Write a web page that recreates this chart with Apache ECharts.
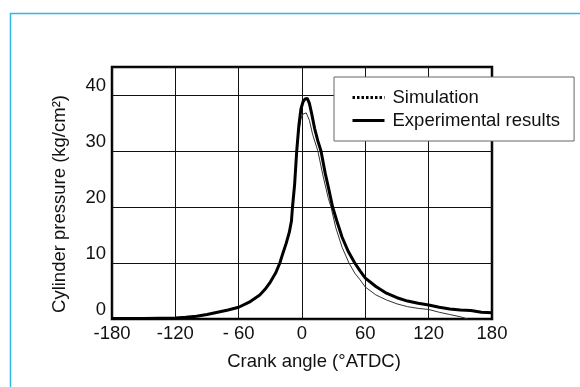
<!DOCTYPE html>
<html>
<head>
<meta charset="utf-8">
<script src="https://cdn.jsdelivr.net/npm/echarts@6/dist/echarts.min.js"></script>
<style>
  html, body { margin: 0; padding: 0; background: #fff; }
  #main { width: 580px; height: 387px; }
</style>
</head>
<body>
<div id="main"></div>
<script>
// crank angle (deg ATDC) / cylinder pressure (kg/cm2)
var angleExp = [-180, -150, -120, -110, -100, -90, -80, -70, -60, -50, -40, -35, -30, -25, -21, -18, -15, -12, -10, -9, -7, -5, -3, -1, 1, 3, 5, 7, 9, 12, 15, 18, 22, 25, 29, 33, 38, 44, 50, 55, 60, 70, 80, 90, 100, 110, 120, 130, 140, 150, 160, 170, 180];
var pressureExp = [0.1, 0.1, 0.2, 0.3, 0.5, 0.8, 1.2, 1.6, 2.1, 3.0, 4.3, 5.3, 6.6, 8.2, 10, 11.8, 13.5, 15.5, 17.5, 20, 24, 30, 34.5, 37.5, 38.8, 39.3, 39.4, 38.5, 36.8, 34, 31.8, 30, 26, 23.5, 20, 17.5, 14.6, 12, 10, 8.6, 7.3, 5.8, 4.6, 3.8, 3.2, 2.8, 2.5, 2.1, 1.8, 1.6, 1.5, 1.2, 1.1];

var angleSim = [-110, -100, -90, -80, -70, -60, -50, -40, -35, -30, -25, -21, -18, -15, -12, -10, -9, -7, -5, -3, -1, 1, 4, 7, 10, 15, 20, 25, 27.5, 32, 38, 44.5, 50, 55, 60, 70, 80, 90, 100, 110, 120, 130, 140, 150, 157];
var pressureSim = [0.3, 0.5, 0.8, 1.2, 1.6, 2.1, 3.0, 4.3, 5.3, 6.6, 8.2, 10, 11.8, 13.5, 15.5, 17.5, 20, 24, 29.5, 33.5, 35.8, 36.6, 36.8, 35.5, 33, 30, 25.5, 21.5, 20, 16.3, 12.8, 10, 8.2, 7, 5.7, 4.3, 3.4, 2.7, 2.2, 1.9, 1.7, 1.2, 0.8, 0.4, 0];

var xTickLabels = {'-180': '-180', '-120': '-120', '-60': '- 60', '0': '0', '60': '60', '120': '120', '180': '180'};

function pairs(xs, ys) {
  var out = [];
  for (var i = 0; i < xs.length; i++) out.push([xs[i], ys[i]]);
  return out;
}

var chart = echarts.init(document.getElementById('main'), null, { renderer: 'canvas' });
var fontFam = 'Liberation Sans, Arial, sans-serif';
var fs = 18.5;

var option = {
  animation: false,
  backgroundColor: '#fff',
  graphic: [{
    // light blue frame round the figure
    type: 'rect',
    left: 8, top: 11,
    shape: { x: 0, y: 0, width: 620, height: 420 },
    style: { fill: 'none', stroke: '#33b5e5', lineWidth: 1.5 },
    z: -1
  }],
  grid: {
    left: 112, right: 88, top: 67, bottom: 68,
    show: true, borderColor: '#000', borderWidth: 2.5
  },
  legend: {
    orient: 'vertical',
    left: 334, top: 77,
    padding: [11, 14, 11, 17],
    itemWidth: 32, itemHeight: 14, itemGap: 4,
    borderColor: '#666', borderWidth: 1,
    backgroundColor: '#fff',
    textStyle: { fontFamily: fontFam, fontSize: fs, lineHeight: 18, color: '#111', padding: [0, 0, 0, 3] },
    data: [
      { name: 'Simulation', itemStyle: { opacity: 0 }, lineStyle: { type: [2.5, 2], width: 3, color: '#000' } },
      { name: 'Experimental results', itemStyle: { opacity: 0 }, lineStyle: { width: 3, color: '#000' } }
    ],
    z: 10
  },
  xAxis: {
    type: 'value', min: -180, max: 180, interval: 60,
    name: 'Crank angle (°ATDC)', nameLocation: 'middle', nameGap: 33,
    nameTextStyle: { fontFamily: fontFam, fontSize: fs, color: '#111', padding: [0, 0, 0, 24] },
    axisLine: { show: false }, axisTick: { show: false },
    axisLabel: {
      fontFamily: fontFam, fontSize: fs, color: '#111', margin: 5,
      formatter: function (v) { return xTickLabels[String(v)] || ''; }
    },
    splitLine: { show: true, lineStyle: { color: '#111', width: 1 } }
  },
  yAxis: {
    type: 'value', min: 0, max: 45, interval: 10,
    name: 'Cylinder pressure (kg/cm²)', nameLocation: 'middle', nameGap: 43, nameRotate: 90,
    nameTextStyle: { fontFamily: fontFam, fontSize: fs, color: '#111', padding: [0, 22, 0, 0] },
    axisLine: { show: false }, axisTick: { show: false },
    axisLabel: {
      fontFamily: fontFam, fontSize: fs, color: '#111', margin: 6, verticalAlign: 'bottom',
      formatter: function (v) { return v % 10 === 0 ? String(v) : ''; }
    },
    splitLine: { show: true, lineStyle: { color: '#111', width: 1 } }
  },
  series: [
    {
      name: 'Simulation', type: 'line', showSymbol: false, symbol: 'none',
      itemStyle: { color: '#000' },
      data: pairs(angleSim, pressureSim),
      lineStyle: { color: '#333', width: 1 }, z: 3
    },
    {
      name: 'Experimental results', type: 'line', showSymbol: false, symbol: 'none',
      itemStyle: { color: '#000' },
      data: pairs(angleExp, pressureExp),
      lineStyle: { color: '#000', width: 3 }, z: 4
    }
  ]
};
chart.setOption(option);
</script>
</body>
</html>
